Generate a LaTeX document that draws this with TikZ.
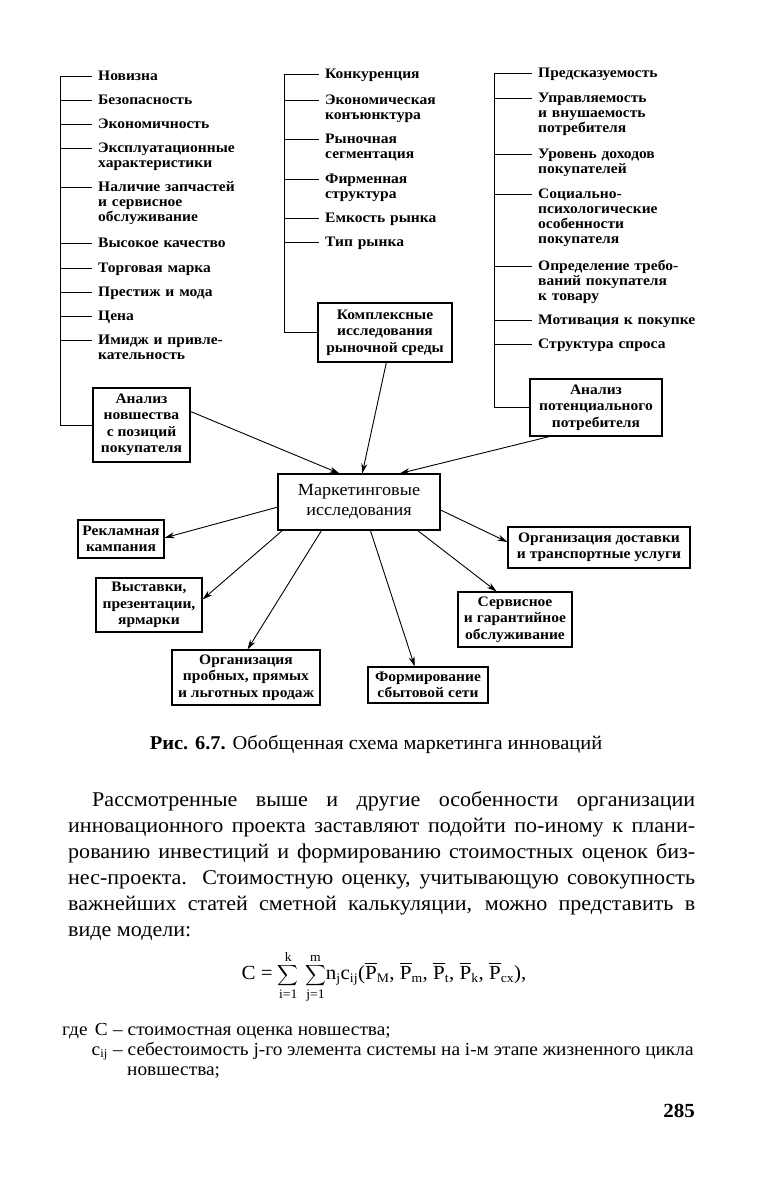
\documentclass[tikz,border=0pt]{standalone}
\usepackage{exscale}
\usepackage{fontspec}
\setmainfont{Liberation Serif}
\newfontfamily\itf[FakeStretch=1.07]{Liberation Serif}
\newfontfamily\bodyf[FakeStretch=1.05]{Liberation Serif}
\usetikzlibrary{arrows.meta,calc}
\newcommand\fsub{\fontsize{13}{13}\selectfont}
\newcommand\PB[1]{$\overline{\mbox{P}}_{\mbox{\fsub #1}}$}
\newcommand\SUMS{{\fontsize{15}{15}\selectfont$\displaystyle\sum_{\mbox{\fsub i=1}}^{\mbox{\fsub k}}\;\sum_{\mbox{\fsub j=1}}^{\mbox{\fsub m}}$}}
\begin{document}
\begin{tikzpicture}[x=1pt,y=-1pt,
  item/.style={anchor=base west, inner sep=0pt, text width=175pt, align=left,
    font=\itf\bfseries\fontsize{14.5}{15}\selectfont},
  bx/.style={draw, line width=1.1pt, inner sep=0pt, align=center,
    font=\itf\bfseries\fontsize{14.5}{16.5}\selectfont},
  br/.style={line width=0.9pt},
  ar/.style={line width=0.9pt, -{Stealth[length=10pt,width=6pt]}},
  txt/.style={anchor=base west, inner sep=0pt, font=\bodyf\fontsize{21}{26}\selectfont},
  lg/.style={anchor=base west, inner sep=0pt, font=\bodyf\fontsize{18.4}{20}\selectfont},
]
\fill[white] (0,0) rectangle (774,1184);
\useasboundingbox (0,0) rectangle (774,1184);

% ---------- left column ----------
\node[item] (a1) at (98,80) {Новизна};
\node[item] (a2) at (98,104) {Безопасность};
\node[item] (a3) at (98,128) {Экономичность};
\node[item] (a4) at (98,152) {Эксплуатационные\\характеристики};
\node[item] (a5) at (98,191) {Наличие запчастей\\и сервисное\\обслуживание};
\node[item] (a6) at (98,247) {Высокое качество};
\node[item] (a7) at (98,272) {Торговая марка};
\node[item] (a8) at (98,296) {Престиж и мода};
\node[item] (a9) at (98,320) {Цена};
\node[item] (a10) at (98,344) {Имидж и привле-\\кательность};
\node[bx, minimum width=97pt, minimum height=74pt] (na) at (141.5,425)
  {Анализ\\новшества\\с позиций\\покупателя};
\foreach \n in {a1,a2,a3,a4,a5,a6,a7,a8,a9,a10}
  \draw[br] ($(\n.base west)+(-38,-4)$) -- ($(\n.base west)+(-6,-4)$);
\draw[br] ($(a1.base west)+(-38,-4)$) |- (na.west);

% ---------- middle column ----------
\node[item] (b1) at (325,78) {Конкуренция};
\node[item] (b2) at (325,104) {Экономическая\\конъюнктура};
\node[item] (b3) at (325,143) {Рыночная\\сегментация};
\node[item] (b4) at (325,183) {Фирменная\\структура};
\node[item] (b5) at (325,222) {Емкость рынка};
\node[item] (b6) at (325,246) {Тип рынка};
\node[bx, minimum width=134pt, minimum height=59pt] (km) at (385,332.5)
  {Комплексные\\исследования\\рыночной среды};
\foreach \n in {b1,b2,b3,b4,b5,b6}
  \draw[br] ($(\n.base west)+(-41,-4)$) -- ($(\n.base west)+(-6,-4)$);
\draw[br] ($(b1.base west)+(-41,-4)$) |- (km.west);

% ---------- right column ----------
\node[item] (c1) at (538,77) {Предсказуемость};
\node[item] (c2) at (538,102) {Управляемость\\и внушаемость\\потребителя};
\node[item] (c3) at (538,158) {Уровень доходов\\покупателей};
\node[item] (c4) at (538,198) {Социально-\\психологические\\особенности\\покупателя};
\node[item] (c5) at (538,270) {Определение требо-\\ваний покупателя\\к товару};
\node[item] (c6) at (538,324) {Мотивация к покупке};
\node[item] (c7) at (538,348) {Структура спроса};
\node[bx, minimum width=132pt, minimum height=57pt] (ap) at (596,407.5)
  {Анализ\\потенциального\\потребителя};
\foreach \n in {c1,c2,c3,c4,c5,c6,c7}
  \draw[br] ($(\n.base west)+(-44,-4)$) -- ($(\n.base west)+(-6,-4)$);
\draw[br] ($(c1.base west)+(-44,-4)$) |- (ap.west);

% ---------- centre ----------
\node[draw, line width=1.1pt, inner sep=0pt, align=center, minimum width=162pt,
  minimum height=56pt, font=\itf\fontsize{17}{20}\selectfont] (mk) at (359,502)
  {Маркетинговые\\исследования};

\node[bx, minimum width=86pt, minimum height=38pt] (rk) at (121,539) {Рекламная\\кампания};
\node[bx, minimum width=106pt, minimum height=54pt] (vy) at (149,605) {Выставки,\\презентации,\\ярмарки};
\node[bx, minimum width=148pt, minimum height=55pt] (op) at (246,677.5) {Организация\\пробных, прямых\\и льготных продаж};
\node[bx, minimum width=120pt, minimum height=36pt] (fs) at (428,685) {Формирование\\сбытовой сети};
\node[bx, minimum width=114pt, minimum height=55pt] (sg) at (515,619.5) {Сервисное\\и гарантийное\\обслуживание};
\node[bx, minimum width=182pt, minimum height=41pt] (od) at (599,547.5) {Организация доставки\\и транспортные услуги};

% incoming arrows
\draw[ar] ($(na.north east)!0.32!(na.south east)$) -- ($(mk.north west)!0.38!(mk.north east)$);
\draw[ar] ($(km.south west)!0.51!(km.south east)$) -- ($(mk.north west)!0.52!(mk.north east)$);
\draw[ar] ($(ap.south west)!0.15!(ap.south east)$) -- ($(mk.north west)!0.75!(mk.north east)$);
% outgoing arrows
\draw[ar] ($(mk.north west)!0.59!(mk.south west)$) -- ($(rk.north east)!0.47!(rk.south east)$);
\draw[ar] ($(mk.south west)!0.03!(mk.south east)$) -- ($(vy.north east)!0.4!(vy.south east)$);
\draw[ar] ($(mk.south west)!0.27!(mk.south east)$) -- ($(op.north west)!0.51!(op.north east)$);
\draw[ar] ($(mk.south west)!0.57!(mk.south east)$) -- ($(fs.north west)!0.39!(fs.north east)$);
\draw[ar] ($(mk.south west)!0.86!(mk.south east)$) -- ($(sg.north west)!0.34!(sg.north east)$);
\draw[ar] ($(mk.north east)!0.64!(mk.south east)$) -- ($(od.north west)!0.37!(od.south west)$);

% ---------- caption ----------
\node[inner sep=0pt, font=\bodyf\fontsize{19.5}{22}\selectfont] (cap) at (376,745)
  {\textbf{Рис. 6.7.} Обобщенная схема маркетинга инноваций};

% ---------- body text ----------
\node[txt] (t1) at (92,806) {\makebox[603pt][s]{Рассмотренные выше и другие особенности организации}};
\node[txt] (t2) at (68,832) {\makebox[627pt][s]{инновационного проекта заставляют подойти по-иному к плани-}};
\node[txt] (t3) at (68,858) {\makebox[627pt][s]{рованию инвестиций и формированию стоимостных оценок биз-}};
\node[txt] (t4) at (68,884) {\makebox[627pt][s]{нес-проекта. Стоимостную оценку, учитывающую совокупность}};
\node[txt] (t5) at (68,910) {\makebox[627pt][s]{важнейших статей сметной калькуляции, можно представить в}};
\node[txt] (t6) at (68,936) {виде модели:};

% ---------- formula ----------
\node[inner sep=0pt, font=\bodyf\fontsize{20}{22}\selectfont] (fm) at (384,977)
  {C = \SUMS n$_{\mbox{\fsub j}}$c$_{\mbox{\fsub ij}}$(\PB{M}, \PB{m}, \PB{t}, \PB{k}, \PB{cx}),};

% ---------- legend ----------
\node[lg] (g0) at (62,1035) {где};
\node[lg, anchor=base east] (g1) at (108,1035) {C};
\node[lg] (g1t) at (113,1035) {– стоимостная оценка новшества;};
\node[lg, anchor=base east] (g2) at (108,1055) {c$_{\mbox{\fontsize{12}{12}\selectfont ij}}$};
\node[lg] (g2t) at (113,1055) {– себестоимость j-го элемента системы на i-м этапе жизненного цикла};
\node[lg] (g3) at (127,1075) {новшества;};

% ---------- page number ----------
\node[inner sep=0pt, anchor=base east, font=\bodyf\bfseries\fontsize{20}{22}\selectfont] (pg) at (695,1117) {285};
\end{tikzpicture}
\end{document}
